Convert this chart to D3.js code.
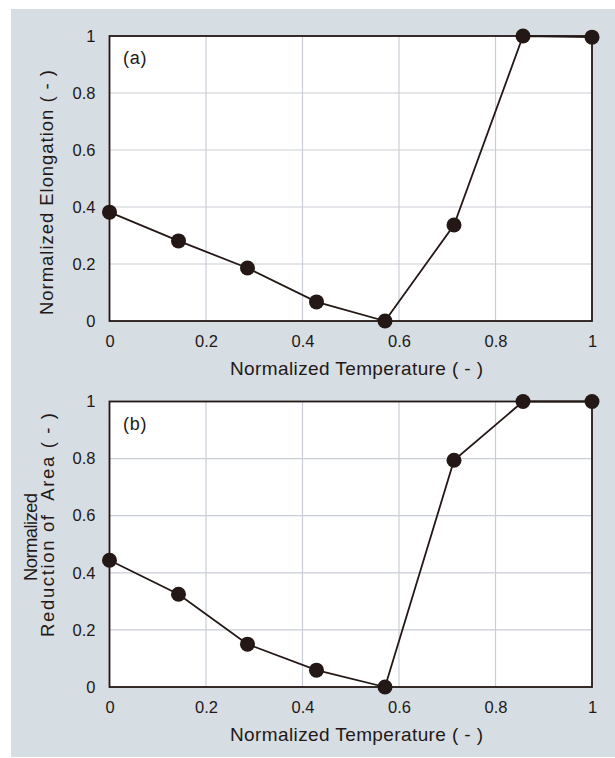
<!DOCTYPE html>
<html><head><meta charset="utf-8">
<script src="https://cdn.jsdelivr.net/npm/d3@7"></script>
<style>body{margin:0;background:#fff;}svg{display:block;}text{font-family:"Liberation Sans",Arial,sans-serif;fill:#231815;}</style>
</head><body>
<script>
const temperature = [0, 0.143, 0.286, 0.429, 0.571, 0.714, 0.857, 1.0];
const elongation = [0.382, 0.281, 0.186, 0.067, 0.0, 0.337, 1.0, 0.996];
const reductionOfArea = [0.444, 0.325, 0.15, 0.059, 0.0, 0.794, 1.0, 1.0];
const xTicks = [0, 0.2, 0.4, 0.6, 0.8, 1];
const yTicks = [0, 0.2, 0.4, 0.6, 0.8, 1];
const xTitle = "Normalized Temperature ( - )";
const tags = ["(a)", "(b)"];
const yTitles = [["Normalized Elongation ( - )"], ["Normalized", "Reduction of  Area ( - )"]];

// layout (positions only)
const layouts = [
  {top: 36, bottom: 321, titles: [{x: 52.5, cy: 192.5, len: 245}]},
  {top: 401.5, bottom: 687, titles: [{x: 36.5, cy: 537, len: 88}, {x: 53.5, cy: 525, len: 224}]}
];

const W = 615, H = 758;
const svg = d3.select("body").append("svg").attr("width", W).attr("height", H);
svg.append("rect").attr("x", 11).attr("y", 9).attr("width", W - 11).attr("height", 748).attr("fill", "#d6dee4");

const left = 109.5, right = 592;
const x = d3.scaleLinear().domain([0, 1]).range([left, right]);
const dark = "#231815";
const series = [elongation, reductionOfArea];

function fitText(sel, size, len) {
  sel.attr("font-size", size).attr("textLength", len).attr("lengthAdjust", "spacing");
}

series.forEach((values, k) => {
  const p = layouts[k];
  const y = d3.scaleLinear().domain([0, 1]).range([p.bottom, p.top]);
  const g = svg.append("g");
  g.append("rect").attr("x", left).attr("y", p.top).attr("width", right - left).attr("height", p.bottom - p.top).attr("fill", "#fff");
  g.append("g").selectAll("line").data(xTicks.slice(1, -1)).join("line")
    .attr("x1", d => x(d)).attr("x2", d => x(d)).attr("y1", p.top).attr("y2", p.bottom)
    .attr("stroke", "#c9ced6").attr("stroke-width", 1.2);
  g.append("g").selectAll("line").data(yTicks.slice(1, -1)).join("line")
    .attr("y1", d => y(d)).attr("y2", d => y(d)).attr("x1", left).attr("x2", right)
    .attr("stroke", "#c9ced6").attr("stroke-width", 1.2);
  g.append("rect").attr("x", left).attr("y", p.top).attr("width", right - left).attr("height", p.bottom - p.top)
    .attr("fill", "none").attr("stroke", dark).attr("stroke-width", 1.8);

  const xa = d3.axisBottom(x).tickValues(xTicks).tickFormat(d3.format("")).tickSize(0).tickPadding(14);
  const xg = g.append("g").attr("transform", `translate(0,${p.bottom})`).call(xa);
  xg.select(".domain").remove();
  xg.selectAll("text").attr("font-size", 16.5).attr("fill", dark).style("font-family", "Liberation Sans, Arial, sans-serif");
  const ya = d3.axisLeft(y).tickValues(yTicks).tickFormat(d3.format("")).tickSize(0).tickPadding(14);
  const yg = g.append("g").attr("transform", `translate(${left},0)`).call(ya);
  yg.select(".domain").remove();
  yg.selectAll("text").attr("font-size", 16.5).attr("fill", dark).style("font-family", "Liberation Sans, Arial, sans-serif");

  const xt = g.append("text").attr("x", 356.5).attr("y", p.bottom + 54).attr("text-anchor", "middle").text(xTitle);
  fitText(xt, 19, 253);

  yTitles[k].forEach((t, i) => {
    const tl = p.titles[i];
    const yt = g.append("text").attr("transform", `translate(${tl.x},${tl.cy}) rotate(-90)`).attr("text-anchor", "middle")
      .style("white-space", "pre").text(t);
    fitText(yt, 18.5, tl.len);
  });

  const tg = g.append("text").attr("x", left + 13.5).attr("y", p.top + 28).text(tags[k]);
  fitText(tg, 18, 23.5);

  const data = temperature.map((t, i) => [t, values[i]]);
  g.append("path").datum(data).attr("d", d3.line().x(d => x(d[0])).y(d => y(d[1])))
    .attr("fill", "none").attr("stroke", dark).attr("stroke-width", 1.8);
  g.append("g").selectAll("circle").data(data).join("circle")
    .attr("cx", d => x(d[0])).attr("cy", d => y(d[1])).attr("r", 7.5).attr("fill", dark);
});
</script>
</body></html>
